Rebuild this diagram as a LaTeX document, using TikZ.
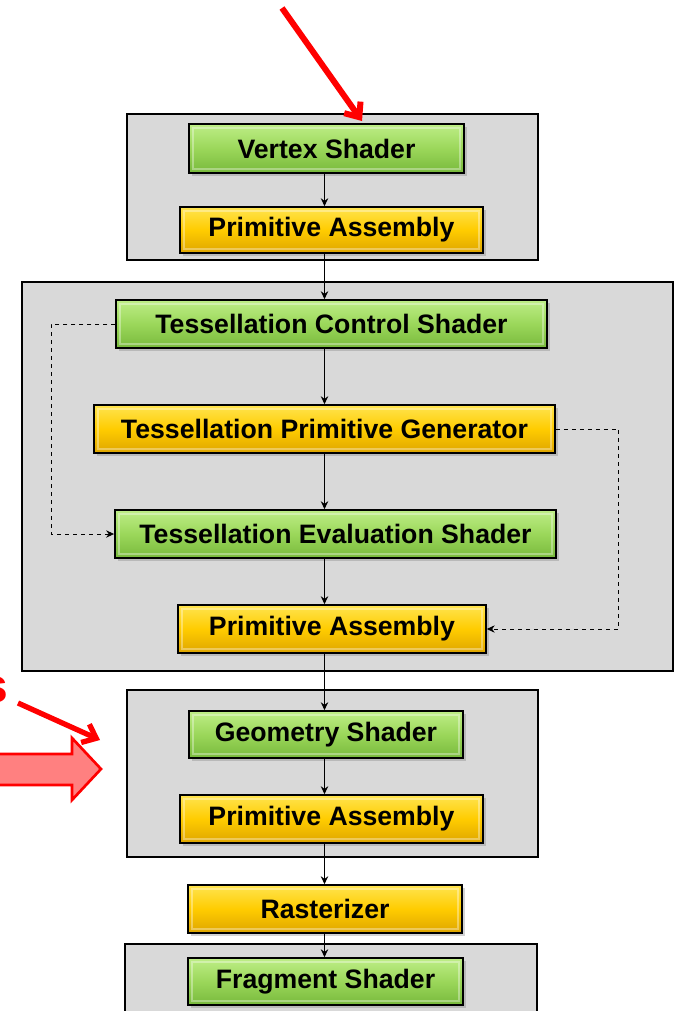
\documentclass[tikz,border=0pt]{standalone}
\usepackage{fontspec}
\setmainfont{Liberation Sans}
\usetikzlibrary{arrows.meta, positioning, shadows}

\definecolor{greentop}{RGB}{190,238,135}
\definecolor{greenmid}{RGB}{155,215,90}
\definecolor{greenbot}{RGB}{120,185,60}
\definecolor{goldtop}{RGB}{255,228,80}
\definecolor{goldmid}{RGB}{255,204,0}
\definecolor{goldbot}{RGB}{222,165,0}
\definecolor{arrowfill}{RGB}{255,128,128}

\begin{document}
\begin{tikzpicture}[x=0.75pt,y=-0.75pt,
    stage/.style={draw=black, line width=1.1pt, inner sep=0pt,
        font=\bfseries\fontsize{20}{24}\selectfont,
        drop shadow={shadow xshift=2pt,shadow yshift=-2pt,opacity=0.35},
        path picture={\draw[white, opacity=0.35, line width=1.2pt]
            ([shift={(3pt,-3pt)}]path picture bounding box.north west) rectangle
            ([shift={(-3pt,3pt)}]path picture bounding box.south east);}},
    shader/.style={stage, top color=greentop, bottom color=greenbot, middle color=greenmid},
    fixed/.style={stage, top color=goldtop, bottom color=goldbot, middle color=goldmid},
    group/.style={draw=black, line width=2pt, fill=gray!30},
    flow/.style={-{Stealth[length=6pt,width=5.5pt]}, line width=1pt},
    feedback/.style={flow, dashed, line width=0.7pt},
    pointer/.style={red, line width=4.5pt, -{Straight Barb[length=9pt,width=15pt]}}]
\clip (0,0) rectangle (681,1011);

% pipeline groups
\draw[group] (127,114) rectangle (538,260);
\draw[group] (22,282) rectangle (673,671);
\draw[group] (127,690) rectangle (538,857);
\draw[group] (125,944) rectangle (537,1030);

% stages
\node[shader, minimum width=206pt, minimum height=36.75pt] (vs) at (326.5,148.5) {Vertex Shader};
\node[fixed, minimum width=227pt, minimum height=34.5pt] (pa1) at (331.5,230) {Primitive Assembly};
\node[shader, minimum width=323pt, minimum height=36pt] (tcs) at (331.5,324) {Tessellation Control Shader};
\node[fixed, minimum width=346pt, minimum height=36pt] (tpg) at (324.5,429) {Tessellation Primitive Generator};
\node[shader, minimum width=331pt, minimum height=36pt] (tes) at (335.5,534) {Tessellation Evaluation Shader};
\node[fixed, minimum width=231pt, minimum height=36pt] (pa2) at (332,629) {Primitive Assembly};
\node[shader, minimum width=205.5pt, minimum height=35.25pt] (gs) at (326,734.5) {Geometry Shader};
\node[fixed, minimum width=227pt, minimum height=36pt] (pa3) at (331.5,819) {Primitive Assembly};
\node[fixed, minimum width=205.5pt, minimum height=36pt] (rast) at (325,909) {Rasterizer};
\node[shader, minimum width=206pt, minimum height=35.25pt] (fs) at (325.5,981.5) {Fragment Shader};

% data flow
\foreach \a/\b in {vs/pa1,pa1/tcs,tcs/tpg,tpg/tes,tes/pa2,pa2/gs,gs/pa3,pa3/rast,rast/fs} {
    \draw[flow] (\a.south -| tpg) -- (\b.north -| tpg);
}
\draw[feedback] (tcs.west) -- ++(-64,0) |- (tes.west);
\draw[feedback] (tpg.east) -- ++(63,0) |- (pa2.east);

% red highlights
\coordinate (vstail) at (282,8);
\coordinate (vstip) at (362,121);
\draw[pointer] (vstail) -- (vstip);
\node[red, font=\bfseries\fontsize{36}{40}\selectfont, anchor=east, inner sep=0pt] (sfrag) at (8,690) {s};
\coordinate (gstail) at (18,703);
\coordinate (gstip) at (100,740);
\draw[pointer, line width=4pt] (gstail) -- (gstip);
\filldraw[draw=red, fill=arrowfill, line width=2pt, line join=miter]
    (-10,754) -- (72,754) -- (72,738) -- (101,769) -- (72,800) -- (72,785) -- (-10,785) -- cycle;
\end{tikzpicture}
\end{document}
